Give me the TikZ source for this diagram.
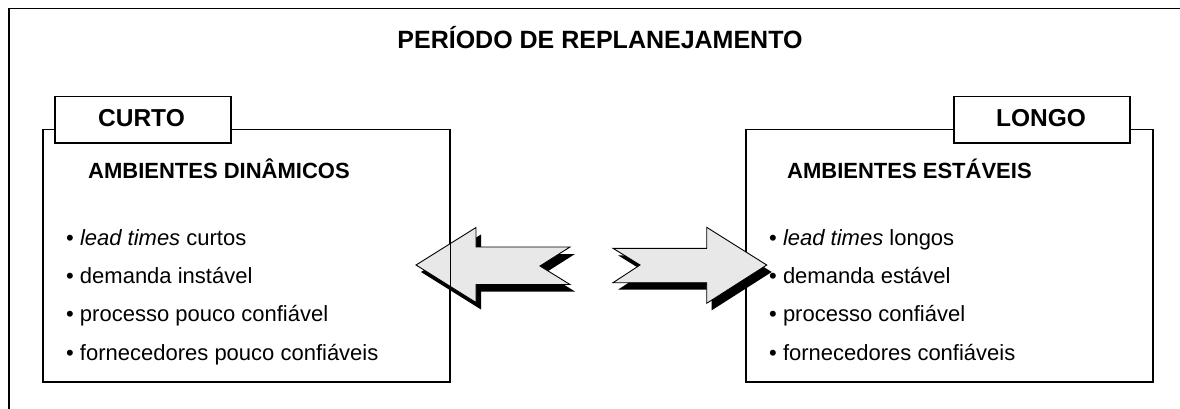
\documentclass[tikz,border=0pt]{standalone}
\usepackage{fontspec}
\setmainfont{Liberation Sans}
\definecolor{arrowgray}{HTML}{E8E8E8}
\begin{document}
\begin{tikzpicture}[x=1pt,y=-1pt,
  frame/.style={line width=1.8pt},
  panel/.style={draw, line width=1.5pt, fill=white, inner sep=0pt, anchor=north west, minimum width=407pt, minimum height=252pt},
  tabbox/.style={draw, line width=1.5pt, fill=white, inner sep=0pt, anchor=north west, minimum width=176pt, minimum height=46pt},
  ttl/.style={font=\fontsize{25}{30}\selectfont\bfseries, inner sep=0pt, anchor=base},
  tabtxt/.style={font=\fontsize{24.5}{29}\selectfont\bfseries, inner sep=0pt, anchor=base},
  headtxt/.style={font=\fontsize{22}{26}\selectfont\bfseries, inner sep=0pt, anchor=base west},
  item/.style={font=\fontsize{22}{26}\selectfont, inner sep=0pt, anchor=base west},
  blockarrow/.style={draw, line width=0.9pt, fill=arrowgray, line join=miter},
  arrowshadow/.style={fill=black},
]
\useasboundingbox (0,0) rectangle (1180,409);
% outer frame (top and left only)
\coordinate (fbl) at (9,409);
\coordinate (ftl) at (9,8.5);
\coordinate (ftr) at (1180,8.5);
\draw[frame] (fbl) -- (ftl) -- (ftr);

\node[ttl] (title) at (600,49) {PERÍODO DE REPLANEJAMENTO};

% left panel
\node[panel] (lbox) at (42,129) {};
\node[tabbox] (ltab) at (54,96) {};
\node[tabtxt] (ltabtxt) at (141.5,127) {CURTO};
\node[headtxt] (lhead) at (88,178) {AMBIENTES DINÂMICOS};
\node[item] (l1) at (66,245.3) {• \textit{lead times} curtos};
\node[item] (l2) at (66,283.6) {• demanda instável};
\node[item] (l3) at (66,321.9) {• processo pouco confiável};
\node[item] (l4) at (66,360.2) {• fornecedores pouco confiáveis};

% right panel
\node[panel] (rbox) at (745,129) {};
\node[tabbox] (rtab) at (953,96) {};
\node[tabtxt] (rtabtxt) at (1041,127) {LONGO};
\node[headtxt] (rhead) at (787,178) {AMBIENTES ESTÁVEIS};
\node[item] (r1) at (769,245.3) {• \textit{lead times} longos};
\node[item] (r2) at (769,283.6) {• demanda estável};
\node[item] (r3) at (769,321.9) {• processo confiável};
\node[item] (r4) at (769,360.2) {• fornecedores confiáveis};

% left block arrow
\begin{scope}[shift={(5,7)}]
\fill[arrowshadow] (416,265) -- (476,227.5) -- (476,247) -- (570,247) -- (540,266) -- (570,284.5) -- (476,284.5) -- (476,302.5) -- cycle;
\end{scope}
\draw[blockarrow] (416,265) -- (476,227.5) -- (476,247) -- (570,247) -- (540,266) -- (570,284.5) -- (476,284.5) -- (476,302.5) -- cycle;

% right block arrow
\begin{scope}[shift={(5,7)}]
\fill[arrowshadow] (613,248.3) -- (706.7,248.3) -- (706.7,227.3) -- (766.7,265) -- (706.7,303.3) -- (706.7,282.7) -- (613,282.7) -- (640,265) -- cycle;
\end{scope}
\draw[blockarrow] (613,248.3) -- (706.7,248.3) -- (706.7,227.3) -- (766.7,265) -- (706.7,303.3) -- (706.7,282.7) -- (613,282.7) -- (640,265) -- cycle;

% left panel right edge drawn over the arrow
\draw[line width=1.5pt] (lbox.north east) -- (lbox.south east);
\end{tikzpicture}
\end{document}
